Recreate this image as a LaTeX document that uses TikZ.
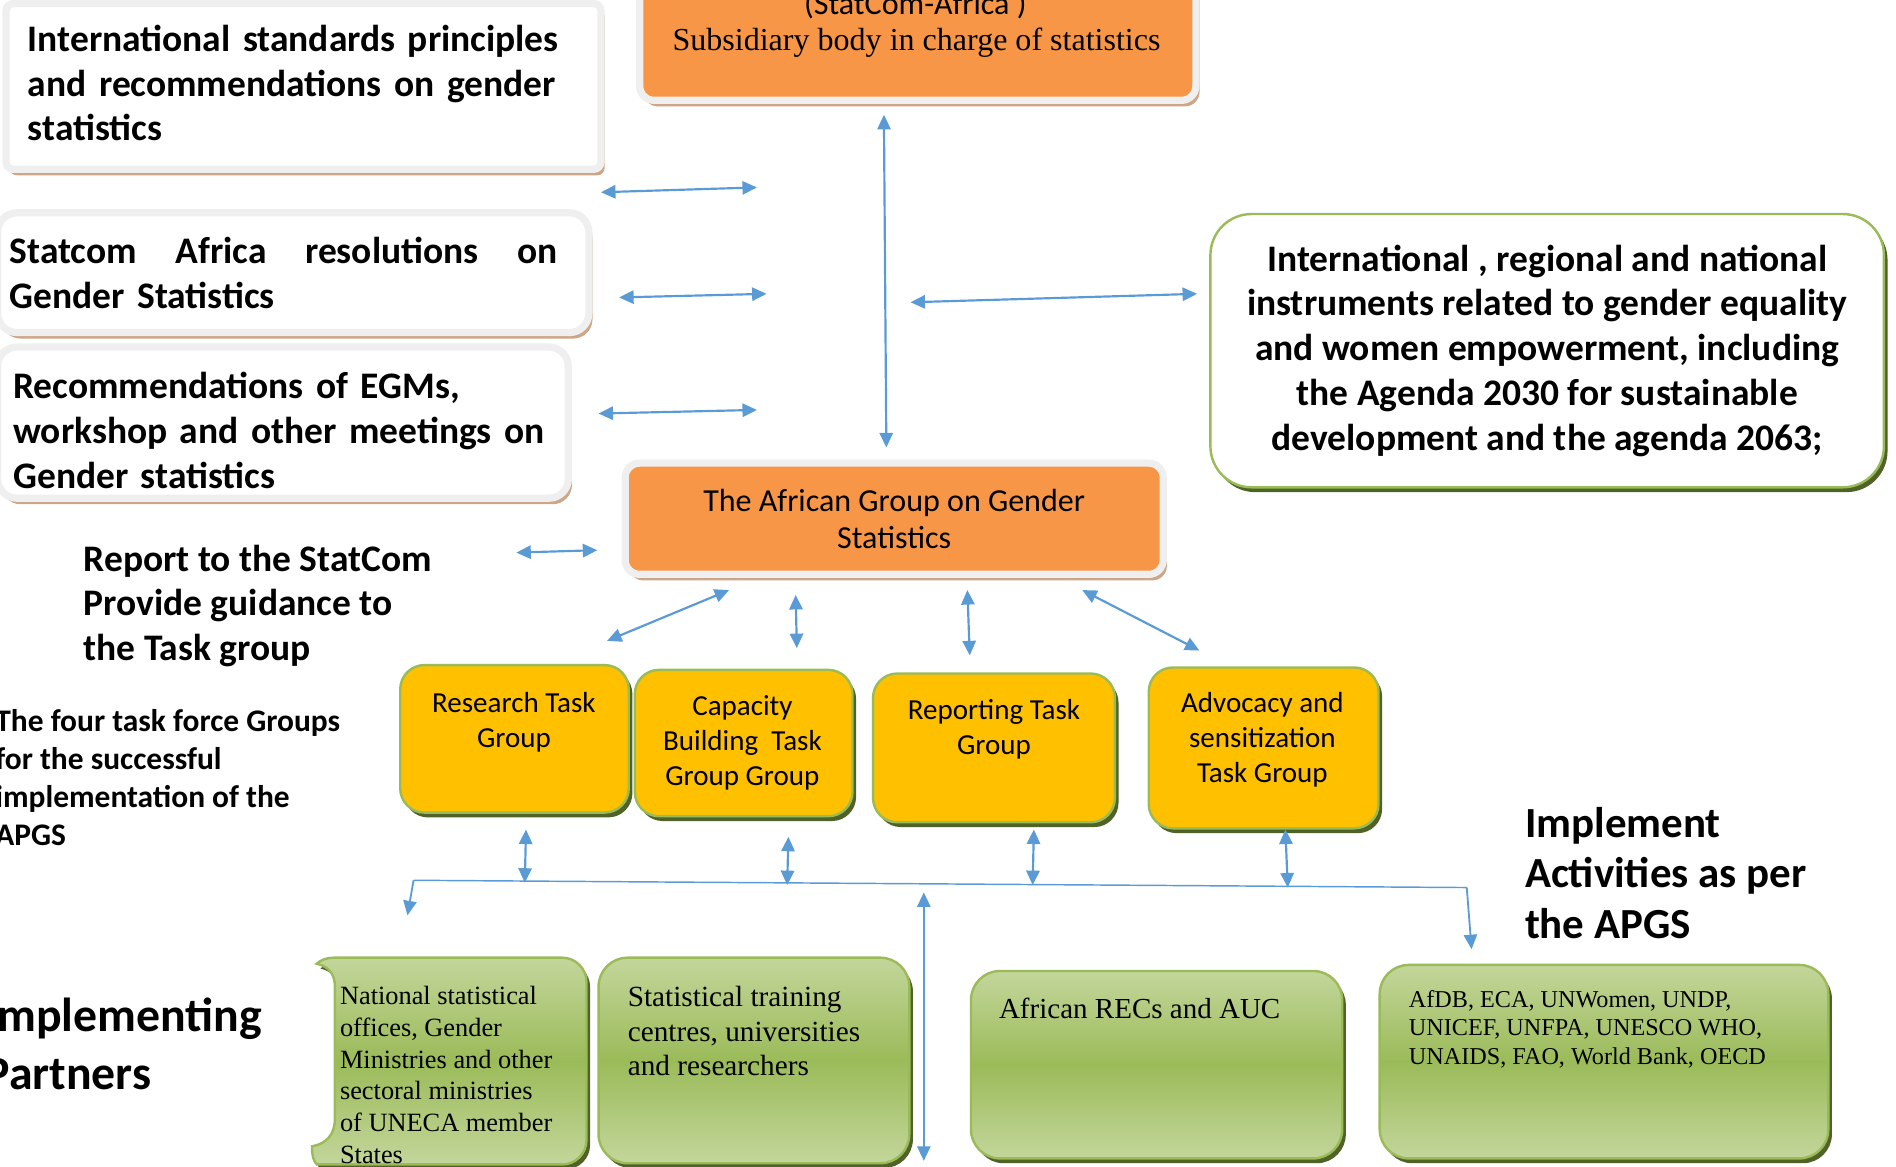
\documentclass[tikz,border=0pt]{standalone}
\usepackage{fontspec}
\setmainfont{Carlito}
\newfontfamily\tnr{Liberation Serif}
\usetikzlibrary{arrows.meta, positioning, shadows}

\definecolor{linkblue}{HTML}{5B9BD5}
\definecolor{ringgray}{HTML}{EFEFEF}
\definecolor{tanshadow}{HTML}{CDA587}
\definecolor{aggsorange}{HTML}{F79646}
\definecolor{taskyellow}{HTML}{FFC000}
\definecolor{leafgreen}{HTML}{9BBB59}
\definecolor{leaflight}{HTML}{C3D69B}
\definecolor{olivedark}{HTML}{4F6228}

\begin{document}
\begin{tikzpicture}[
  x=1pt, y=-1pt,
  paperbox/.style={rectangle, rounded corners=16pt, fill=white, draw=ringgray,
             line width=6pt, inner xsep=18pt, align=left,
             font=\fontsize{31}{37}\selectfont\bfseries,
             drop shadow={shadow xshift=3pt, shadow yshift=-5pt, fill=tanshadow, opacity=1}},
  orangebox/.style={paperbox, fill=aggsorange, line width=6pt, rounded corners=12pt,
             align=center, font=\fontsize{26.5}{31}\selectfont},
  instrbox/.style={rectangle, rounded corners=34pt, fill=white, draw=leafgreen,
             line width=2pt, align=center, font=\fontsize{31}{37}\selectfont\bfseries,
             drop shadow={shadow xshift=3pt, shadow yshift=-4pt, fill=olivedark, opacity=1}},
  taskbox/.style={rectangle, rounded corners=20pt, fill=taskyellow, draw=leafgreen,
             line width=2pt,
             drop shadow={shadow xshift=3pt, shadow yshift=-4pt, fill=olivedark, opacity=1}},
  tasktext/.style={align=center, font=\fontsize{24}{29}\selectfont},
  partnerbox/.style={rectangle, rounded corners=24pt, top color=leaflight,
             bottom color=leaflight, middle color=leafgreen, draw=leafgreen, line width=2pt,
             drop shadow={shadow xshift=3pt, shadow yshift=-4pt, fill=olivedark, opacity=1}},
  partnertext/.style={align=left, anchor=west, inner sep=0pt, font=\tnr\fontsize{21.8}{26.4}\selectfont},
  note/.style={align=left, anchor=west, inner sep=0pt, font=\fontsize{31}{37}\selectfont\bfseries},
  link/.style={{Triangle[length=12pt,width=11pt]}-{Triangle[length=12pt,width=11pt]},
             draw=linkblue, line width=1.8pt},
  bus/.style={draw=linkblue, line width=1.2pt},
  busdrop/.style={-{Triangle[length=12pt,width=11pt]}, draw=linkblue, line width=1.5pt}
]
\useasboundingbox (0,0) rectangle (1568,965);

% sources on the left and top
\node[orangebox, minimum width=460pt, minimum height=163pt] (statcom) at (759,1.5) {};
\node[font=\fontsize{26.5}{31}\selectfont, inner sep=0pt] (statcomname) at (757,4) {(StatCom-Africa )};
\node[font=\tnr\fontsize{26.5}{31}\selectfont, inner sep=0pt] (statcomtext) at (758,35) {%
  Subsidiary body in charge of statistics};
\node[paperbox, rounded corners=6pt, text width=456pt, minimum width=492pt, minimum height=137pt] (istd) at (251,71.5) {%
  International standards principles\\
  and recommendations on gender\\
  statistics\rule[-6pt]{0pt}{6pt}};
\node[paperbox, inner xsep=10pt, text width=469pt, minimum width=489pt, minimum height=99pt] (sres) at (242.5,225.5) {%
  \makebox[453pt]{Statcom\hfill Africa\hfill resolutions\hfill on}\\
  Gender Statistics};
\node[paperbox, inner xsep=13pt, text width=446pt, minimum width=472pt, minimum height=125pt] (recs) at (234,349.5) {%
  \rule{0pt}{35pt}Recommendations of EGMs,\\
  workshop and other meetings on\\
  Gender statistics};
\node[instrbox, minimum width=557pt, minimum height=226pt] (instr) at (1279.5,290) {%
  International , regional and national\\
  instruments related to gender equality\\
  and women empowerment, including\\
  the Agenda 2030 for sustainable\\
  development and the agenda 2063;};

% the group and its task groups
\node[orangebox, minimum width=445pt, minimum height=92pt] (aggs) at (739.5,429) {%
  The African Group on Gender\\Statistics};
\node[note] (report) at (69,501) {Report to the StatCom\\Provide guidance to\\the Task group};

\node[taskbox, minimum width=189pt, minimum height=122pt] (research) at (425.5,611) {};
\node[taskbox, minimum width=180pt, minimum height=121pt] (capacity) at (615,614.5) {};
\node[taskbox, minimum width=200pt, minimum height=123pt] (reporting) at (822,618.5) {};
\node[taskbox, minimum width=190pt, minimum height=133pt] (advocacy) at (1045,618.5) {};
\node[tasktext] at (425,597) {Research Task\\Group};
\node[tasktext] at (614,614) {Capacity\\Building\ \ Task\\Group Group};
\node[tasktext] at (822,603) {Reporting Task\\Group};
\node[tasktext] at (1044,612) {Advocacy and\\sensitization\\Task Group};

\node[note, font=\fontsize{26}{31.5}\selectfont\bfseries] (fourgroups) at (-4,643) {%
  The four task force Groups\\for the successful\\implementation of the\\APGS};
\node[note, font=\fontsize{39.5}{48}\selectfont\bfseries] (partners) at (-13,863) {Implementing\\Partners};
\node[note, font=\fontsize{35.5}{42}\selectfont\bfseries] (activities) at (1261,722) {%
  Implement\\Activities as per\\the APGS};

% implementing partners
\node[draw=none, minimum width=227pt, minimum height=171pt] (nso) at (371.5,877.5) {};
\path[partnerbox, sharp corners] (276,792) -- (465,792) .. controls (476,792) and (485,801) .. (485,812)
  -- (485,943) .. controls (485,954) and (476,963) .. (465,963) -- (262,963)
  .. controls (259,960) and (258,955) .. (258,948)
  .. controls (270,946) and (277,938) .. (277,925) -- (277,816)
  .. controls (277,805) and (271,799) .. (262,797)
  .. controls (265,794) and (270,792) .. (276,792) -- cycle;
\node[partnertext] at (281,889) {National statistical\\offices, Gender\\Ministries and other\\
  sectoral ministries\\of UNECA member\\States};
\node[partnerbox, minimum width=257pt, minimum height=170pt] (training) at (623.5,877) {};
\node[partnertext, font=\tnr\fontsize{24.2}{28.5}\selectfont] at (519,853) {%
  Statistical training\\centres, universities\\and researchers};
\node[partnerbox, minimum width=307pt, minimum height=155pt] (recs auc) at (956.5,880.5) {};
\node[partnertext, font=\tnr\fontsize{24}{28.5}\selectfont] at (826,834) {African RECs and AUC};
\node[partnerbox, minimum width=371pt, minimum height=160pt] (agencies) at (1326.5,878) {};
\node[partnertext, font=\tnr\fontsize{20}{23.5}\selectfont] at (1165,851) {%
  AfDB, ECA, UNWomen, UNDP,\\UNICEF, UNFPA, UNESCO WHO,\\UNAIDS, FAO, World Bank, OECD};

% arrow ends
\coordinate (istdR) at (497,159);   \coordinate (istdM) at (626,155);
\coordinate (sresR) at (512,246);   \coordinate (sresM) at (634,243);
\coordinate (recsR) at (495,342);   \coordinate (recsM) at (626,339);
\coordinate (reportR) at (427,457); \coordinate (reportM) at (494,455);
\coordinate (statcomS) at (731,95); \coordinate (aggsN) at (733,370);
\coordinate (instrW) at (990,243);  \coordinate (spineE) at (753,250);
\coordinate (aggsS1) at (603,488);  \coordinate (researchN) at (502,530);
\coordinate (aggsS2) at (658,492);  \coordinate (capacityN) at (659,536);
\coordinate (aggsS3) at (800,488);  \coordinate (reportingN) at (802,542);
\coordinate (aggsS4) at (895,488);  \coordinate (advocacyN) at (992,538);
\coordinate (researchS) at (435,686);  \coordinate (busA) at (434,730);
\coordinate (capacityS) at (652,692);  \coordinate (busB) at (651,732);
\coordinate (reportingS) at (855,686); \coordinate (busC) at (854,732);
\coordinate (advocacyS) at (1063,686); \coordinate (busD) at (1065,734);
\coordinate (busL) at (342,728);   \coordinate (busR) at (1213,734);
\coordinate (nsoN) at (337,757);   \coordinate (agenciesN) at (1217,785);
\coordinate (busUp) at (764,738);  \coordinate (trainingE) at (764,960);

\draw[link] (istdR) -- (istdM);
\draw[link] (sresR) -- (sresM);
\draw[link] (recsR) -- (recsM);
\draw[link] (reportR) -- (reportM);
\draw[link] (statcomS) -- (aggsN);
\draw[link] (spineE) -- (instrW);
\draw[link] (aggsS1) -- (researchN);
\draw[link] (aggsS2) -- (capacityN);
\draw[link] (aggsS3) -- (reportingN);
\draw[link] (aggsS4) -- (advocacyN);
\draw[link] (researchS) -- (busA);
\draw[link] (capacityS) -- (busB);
\draw[link] (reportingS) -- (busC);
\draw[link] (advocacyS) -- (busD);
\draw[bus] (busL) -- (busR);
\draw[busdrop] (busL) -- (nsoN);
\draw[busdrop] (busR) -- (agenciesN);
\draw[link, line width=1.5pt] (busUp) -- (trainingE);
\end{tikzpicture}
\end{document}
